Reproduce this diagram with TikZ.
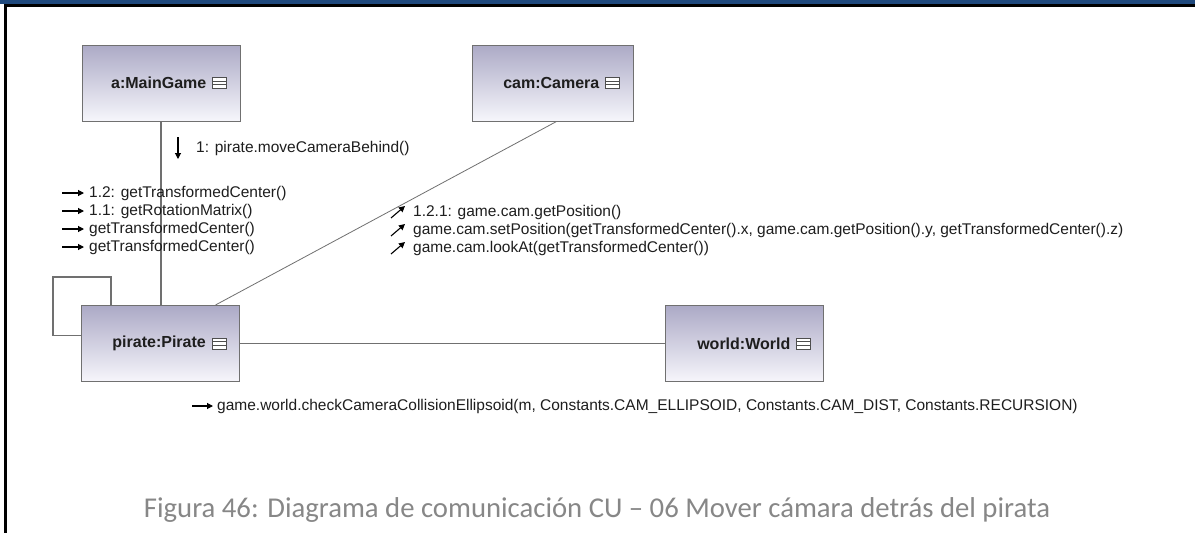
\documentclass[tikz,border=0pt]{standalone}
\usepackage{fontspec}
\setmainfont{Liberation Sans}
\newfontfamily\capfont{Carlito}
\usetikzlibrary{arrows.meta}

\definecolor{bandblue}{RGB}{31,73,125}
\definecolor{boxtop}{RGB}{172,170,198}
\definecolor{boxbot}{RGB}{246,246,251}
\definecolor{edgegray}{RGB}{112,112,112}
\definecolor{capgray}{RGB}{135,135,135}
\definecolor{inkgray}{RGB}{30,30,30}

\tikzset{
  objbox/.style={draw=edgegray, line width=1pt, top color=boxtop, bottom color=boxbot,
    minimum width=158pt, minimum height=76pt, inner sep=0pt},
  objlabel/.style={font=\fontsize{16}{18}\selectfont\bfseries, anchor=east, inner sep=0pt, text=inkgray},
  link/.style={draw=edgegray, line width=1.1pt},
  msg/.style={font=\fontsize{15.5}{17}\selectfont, anchor=west, inner sep=0pt, text=inkgray},
  msgarrow/.style={draw=black, line width=1.1pt, -{Triangle[length=6pt,width=6pt]}},
  compicon/.pic={
    \draw[edgegray!70!black, line width=0.9pt, fill=white] (-7,-5.5) rectangle (7,5.5);
    \draw[edgegray!70!black, line width=0.9pt] (-7,-1.8) -- (7,-1.8) (-7,1.8) -- (7,1.8);
  }
}

\begin{document}
\begin{tikzpicture}[x=1pt, y=-1pt]
  \useasboundingbox (0,0) rectangle (1195,533);
  \fill[white] (0,0) rectangle (1195,533);

  % page frame
  \fill[bandblue] (0,0) rectangle (1195,4);
  \fill[black] (4,4) rectangle (1195,6.5);
  \fill[black] (4,4) rectangle (6.5,533);

  % objects
  \node[objbox] (main) at (161,83) {};
  \node[objbox, minimum width=161pt] (cam) at (552.5,83) {};
  \node[objbox] (pirate) at (160.5,343.5) {};
  \node[objbox] (world) at (744,343.5) {};

  \node[objlabel] (mainlbl) at ([xshift=-34pt]main.east) {a:MainGame};
  \node[objlabel] (camlbl) at ([xshift=-34pt]cam.east) {cam:Camera};
  \node[objlabel] (piratelbl) at ([xshift=-34pt]pirate.east) {pirate:Pirate};
  \node[objlabel] (worldlbl) at ([xshift=-33pt]world.east) {world:World};

  \pic at ([xshift=-21pt]main.east) {compicon};
  \pic at ([xshift=-21pt]cam.east) {compicon};
  \pic at ([xshift=-21pt]pirate.east) {compicon};
  \pic at ([xshift=-20pt]world.east) {compicon};

  % links
  \draw[link] (main.south) -- (main.south |- pirate.north);
  \draw[link, line width=0.8pt] ([xshift=4pt]cam.south) -- ([xshift=55pt]pirate.north);
  \draw[link] (pirate.east) -- (world.west);
  \draw[link] ([xshift=-49.5pt]pirate.north) |- (53,277) |- ([yshift=8pt]pirate.west);

  % messages
  \node[msg] (m1) at (196,148) {1: pirate.moveCameraBehind()};
  \draw[msgarrow] (178,137) -- (178,159);

  \node[msg] (m12) at (89,193) {1.2: getTransformedCenter()};
  \node[msg] (m11) at (89,211) {1.1: getRotationMatrix()};
  \node[msg] (ma) at (89,229) {getTransformedCenter()};
  \node[msg] (mb) at (89,247) {getTransformedCenter()};
  \foreach \m in {m12,m11,ma,mb}
    \draw[msgarrow] ([xshift=-27pt]\m.west) -- ([xshift=-5pt]\m.west);

  \node[msg] (m121) at (413,212) {1.2.1: game.cam.getPosition()};
  \node[msg] (mset) at (413,230) {game.cam.setPosition(getTransformedCenter().x, game.cam.getPosition().y, getTransformedCenter().z)};
  \node[msg] (mlook) at (413,248) {game.cam.lookAt(getTransformedCenter())};
  \foreach \m in {m121,mset,mlook}
    \draw[msgarrow] ([xshift=-22pt, yshift=-6pt]\m.west) -- ([xshift=-8pt, yshift=6pt]\m.west);

  \node[msg] (mworld) at (217,406) {game.world.checkCameraCollisionEllipsoid(m, Constants.CAM\_ELLIPSOID, Constants.CAM\_DIST, Constants.RECURSION)};
  \draw[msgarrow] ([xshift=-25pt]mworld.west) -- ([xshift=-4pt]mworld.west);

  % caption
  \node[font=\capfont\fontsize{28.7}{32}\selectfont, text=capgray, inner sep=0pt] (caption) at (597,510)
    {Figura 46: Diagrama de comunicación CU – 06 Mover cámara detrás del pirata};
\end{tikzpicture}
\end{document}
